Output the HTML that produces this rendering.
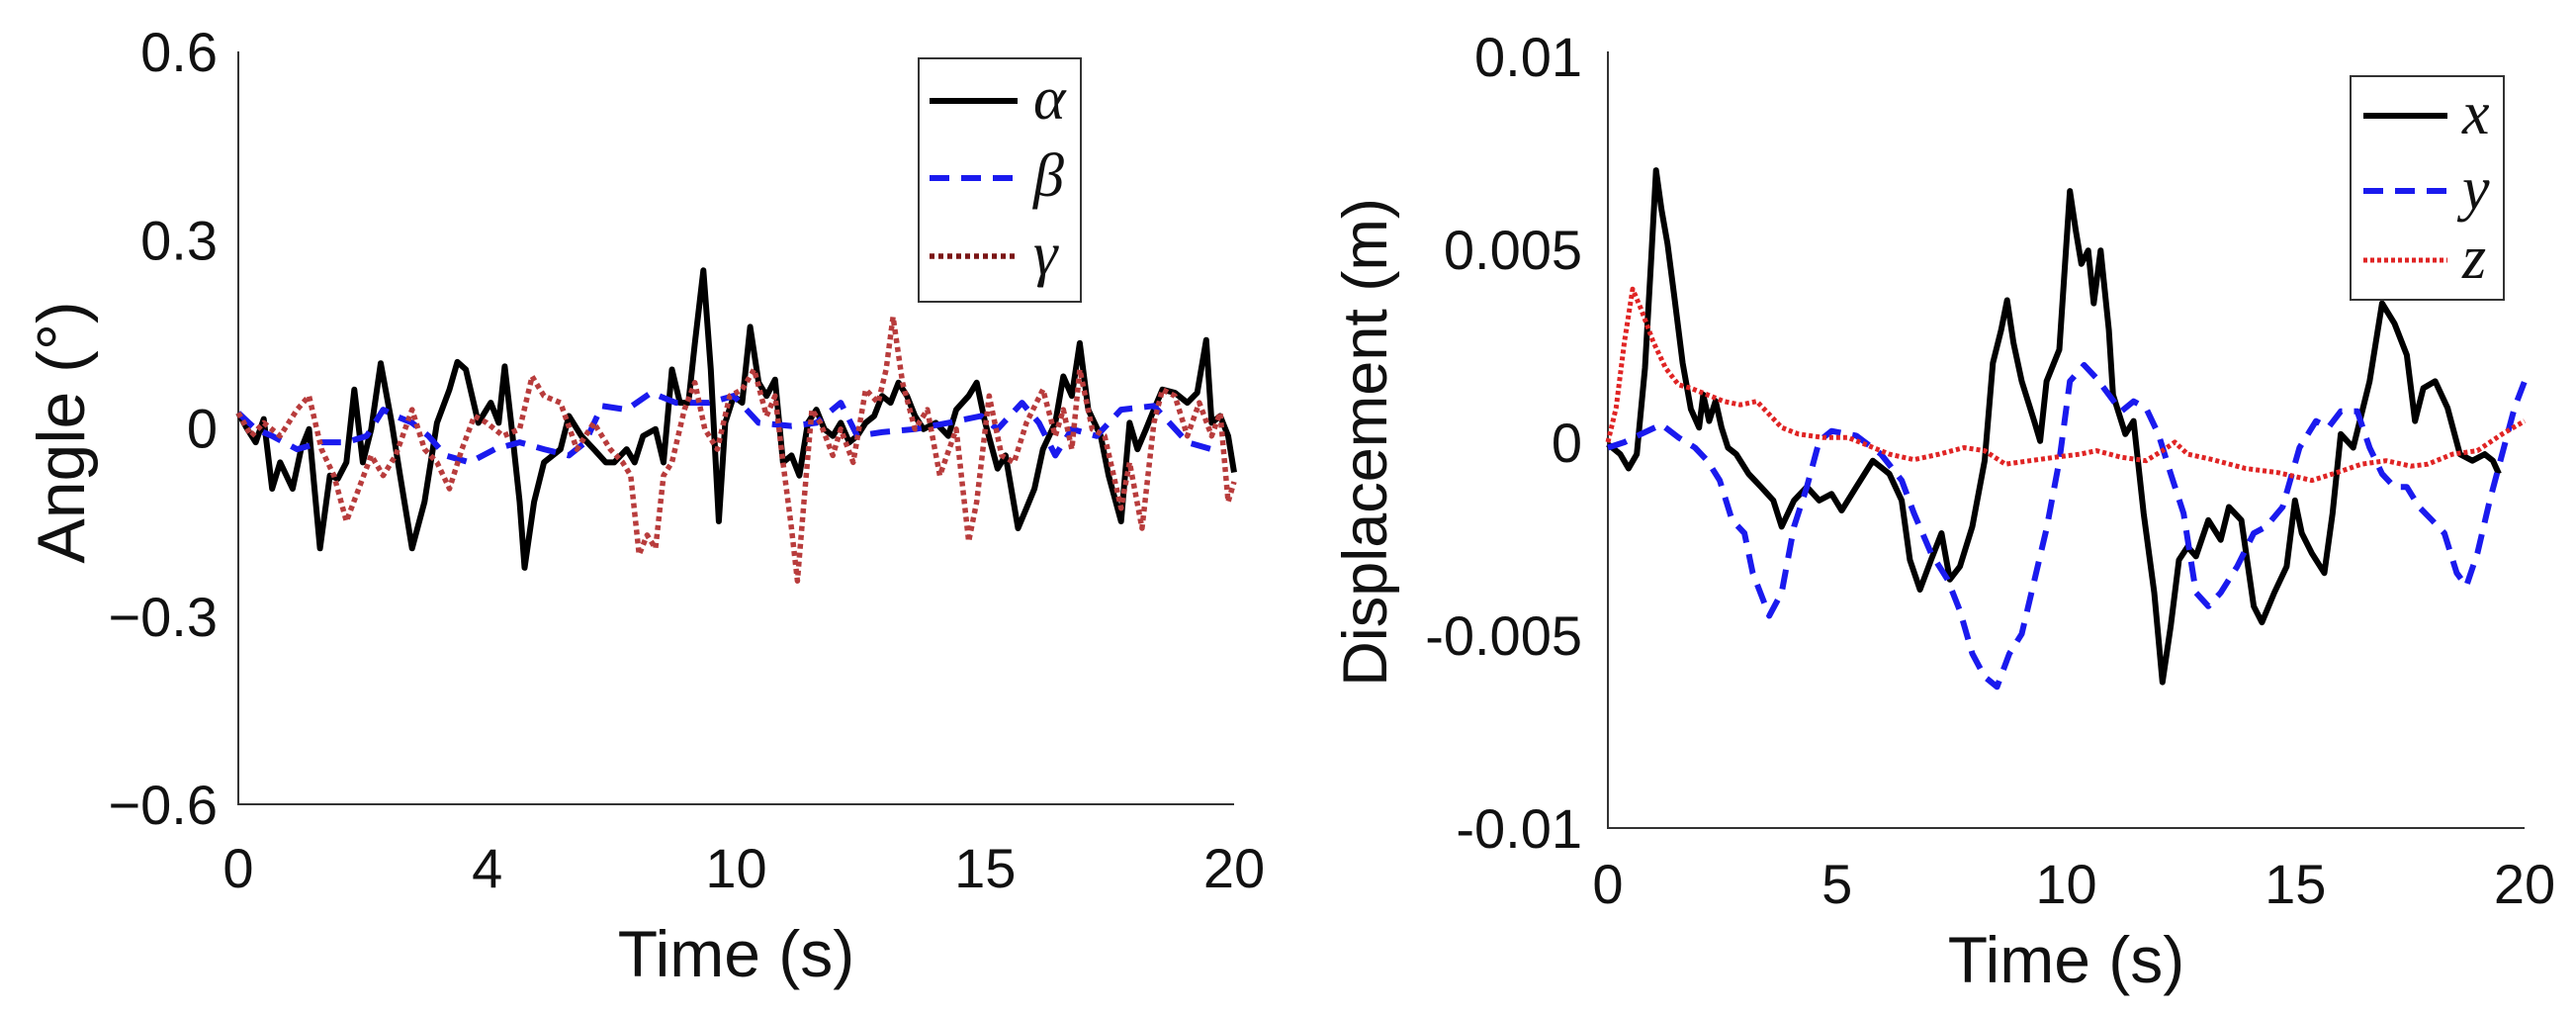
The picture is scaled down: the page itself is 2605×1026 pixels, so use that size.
<!DOCTYPE html>
<html><head><meta charset="utf-8">
<style>
html,body{margin:0;padding:0;background:#fff;}
svg{display:block;}
text{font-family:"Liberation Sans",sans-serif;fill:#111;}
.math{font-family:"Liberation Serif",serif;font-style:italic;}
</style></head>
<body>
<svg id="fig" width="2605" height="1026" viewBox="0 0 2605 1026" xmlns="http://www.w3.org/2000/svg">
<g id="left"></g>
<g id="right"></g>
</svg>
<script>
// ---------- Left chart data (angle, degrees) ----------
const alphaT=[0,.18,.35,.51,.68,.84,1.09,1.26,1.42,1.64,1.84,2.0,2.17,2.33,2.5,2.67,2.86,3.08,3.25,3.49,3.74,3.99,4.24,4.4,4.57,4.82,5.07,5.23,5.35,5.48,5.65,5.75,5.94,6.14,6.47,6.64,6.89,7.14,7.38,7.55,7.8,7.96,8.13,8.38,8.54,8.71,8.87,9.04,9.17,9.34,9.49,9.65,9.78,9.95,10.12,10.28,10.45,10.61,10.78,10.94,11.11,11.27,11.44,11.61,11.77,11.94,12.1,12.27,12.43,12.6,12.77,12.93,13.1,13.26,13.43,13.59,13.76,14.01,14.26,14.42,14.67,14.83,15.0,15.25,15.41,15.66,15.83,15.99,16.16,16.41,16.57,16.74,16.9,17.07,17.32,17.48,17.73,17.9,18.06,18.23,18.39,18.56,18.81,19.06,19.26,19.44,19.55,19.72,19.88,20.0];
const alphaV=[.024,-.002,-.023,.014,-.097,-.055,-.097,-.034,-.002,-.192,-.076,-.081,-.055,.061,-.055,-.002,.103,.008,-.076,-.192,-.118,.008,.061,.105,.093,.008,.04,.008,.098,.008,-.118,-.223,-.118,-.055,-.034,.019,-.013,-.034,-.055,-.055,-.034,-.055,-.013,-.002,-.055,.093,.04,.04,.135,.251,.093,-.149,.008,.051,.04,.161,.072,.051,.077,-.055,-.044,-.076,.008,.029,-.002,-.013,.008,-.023,-.013,.008,.019,.051,.04,.072,.051,.019,-.002,.008,-.013,.029,.051,.072,.008,-.065,-.044,-.16,-.128,-.097,-.034,.008,.082,.051,.135,.029,-.013,-.076,-.149,.008,-.034,-.002,.029,.061,.056,.04,.056,.14,.008,.019,-.013,-.071];
const betaT=[0,.35,.68,1.18,1.67,2.17,2.58,2.91,3.16,3.49,3.82,4.16,4.65,5.15,5.65,6.14,6.64,6.97,7.3,7.8,8.29,8.79,9.45,9.95,10.45,11.11,11.61,12.1,12.43,12.93,13.59,14.26,14.92,15.25,15.74,16.08,16.41,16.74,17.24,17.73,18.39,19.06,19.55];
const betaV=[.024,-.002,-.013,-.034,-.023,-.023,-.013,.029,.019,.008,-.013,-.044,-.055,-.034,-.023,-.034,-.044,-.023,.035,.029,.056,.04,.04,.051,.008,.003,.008,.04,-.013,-.007,-.002,.008,.019,-.002,.04,.008,-.044,-.002,-.013,.029,.035,-.023,-.034];
const gammaT=[0,.26,.51,.84,1.18,1.42,1.67,1.92,2.17,2.42,2.67,2.91,3.16,3.49,3.74,3.99,4.24,4.49,4.74,4.99,5.32,5.65,5.9,6.14,6.47,6.8,7.14,7.47,7.72,7.88,8.05,8.21,8.38,8.54,8.71,8.96,9.17,9.37,9.62,9.87,10.12,10.36,10.61,10.78,10.94,11.11,11.23,11.36,11.52,11.69,11.94,12.1,12.35,12.6,12.85,13.01,13.15,13.34,13.59,13.84,14.09,14.42,14.67,14.83,15.08,15.33,15.58,15.83,16.16,16.41,16.57,16.74,16.9,17.15,17.4,17.73,17.9,18.15,18.39,18.56,18.81,19.06,19.3,19.55,19.72,19.88,20.0];
const gammaV=[.024,-.013,.008,-.013,.029,.051,-.034,-.076,-.149,-.097,-.044,-.076,-.044,.029,-.034,-.055,-.097,-.034,.019,.008,-.013,-.002,.082,.051,.04,-.034,.008,-.034,-.055,-.076,-.202,-.171,-.192,-.076,-.055,.029,.072,-.002,-.034,.051,.061,.093,.019,.051,-.055,-.16,-.244,-.118,.029,.008,-.044,-.002,-.055,.061,.04,.093,.177,.072,-.002,.029,-.076,-.002,-.181,-.118,.051,-.044,-.055,.008,.061,-.013,.029,-.034,.093,-.002,-.013,-.128,-.055,-.16,.008,.061,.051,-.013,.04,-.013,.024,-.118,-.086];
const leftXTicks=[0,5,10,15,20];
const leftXTickLabels=["0","4","10","15","20"];
const leftYTicks=[0.6,0.3,0,-0.3,-0.6];
const leftYTickLabels=["0.6","0.3","0","\u22120.3","\u22120.6"];

// ---------- Right chart data (displacement, mm -> scaled by 0.001) ----------
const xT=[0,.27,.45,.63,.81,.94,1.05,1.17,1.3,1.45,1.63,1.81,1.99,2.08,2.21,2.35,2.48,2.62,2.8,3.07,3.34,3.61,3.79,4.06,4.34,4.61,4.88,5.1,5.42,5.78,6.14,6.41,6.59,6.81,7.05,7.28,7.46,7.68,7.95,8.22,8.4,8.58,8.71,8.85,9.03,9.3,9.43,9.57,9.85,10.08,10.21,10.33,10.48,10.6,10.75,10.93,11.02,11.29,11.47,11.69,11.92,12.1,12.28,12.46,12.65,12.83,13.1,13.37,13.55,13.82,14.09,14.27,14.54,14.81,14.99,15.14,15.36,15.63,15.81,15.99,16.26,16.62,16.89,17.16,17.43,17.61,17.79,18.05,18.32,18.59,18.86,19.13,19.31,19.44];
const xV=[-.05,-.31,-.68,-.31,1.92,4.66,7.05,6.03,5.14,3.77,2.05,.86,.38,1.23,.55,1.07,.38,-.14,-.31,-.82,-1.16,-1.51,-2.19,-1.51,-1.16,-1.51,-1.34,-1.77,-1.16,-.48,-.82,-1.51,-3.05,-3.82,-3.05,-2.36,-3.56,-3.22,-2.19,-.48,2.05,2.91,3.68,2.57,1.58,.55,.03,1.58,2.4,6.51,5.48,4.62,4.97,3.6,4.97,2.91,1.23,.21,.55,-1.85,-3.9,-6.22,-4.76,-3.05,-2.71,-2.96,-2.02,-2.53,-1.68,-2.02,-4.25,-4.67,-3.9,-3.22,-1.51,-2.36,-2.88,-3.39,-1.85,.21,-.14,1.58,3.6,3.08,2.26,.55,1.4,1.58,.89,-.31,-.48,-.31,-.48,-.82];
const yT=[0,.36,.72,1.17,1.54,1.9,2.17,2.44,2.71,2.98,3.16,3.52,3.79,4.06,4.34,4.61,4.88,5.42,5.96,6.41,6.68,7.05,7.41,7.68,7.95,8.22,8.49,8.76,9.03,9.3,9.57,9.85,10.08,10.39,10.66,10.93,11.2,11.47,11.74,12.01,12.28,12.56,12.83,13.1,13.37,13.73,14.09,14.36,14.72,15.09,15.45,15.72,15.99,16.35,16.62,16.89,17.16,17.43,17.7,17.98,18.25,18.52,18.73,18.97,19.24,19.51,19.78,20.0];
const yV=[-.14,0,.21,.46,.12,-.14,-.48,-.99,-2.02,-2.36,-3.39,-4.5,-3.9,-2.19,-1.16,.03,.29,.17,-.31,-.99,-1.85,-2.88,-3.56,-4.37,-5.48,-6.08,-6.34,-5.48,-4.97,-3.6,-2.24,-.48,1.58,2.0,1.66,1.23,.8,1.06,.89,.21,-.82,-1.85,-3.9,-4.25,-3.9,-3.22,-2.36,-2.19,-1.68,-.14,.55,.38,.8,.8,-.14,-.82,-1.16,-1.16,-1.68,-2.02,-2.36,-3.39,-3.73,-2.88,-1.51,-.31,.89,1.58];
const zT=[0,.18,.36,.54,.72,.99,1.26,1.54,1.81,2.17,2.53,2.89,3.25,3.52,3.79,4.16,4.7,5.24,5.6,6.14,6.68,7.23,7.77,8.22,8.67,9.21,9.76,10.3,10.66,11.2,11.74,12.1,12.37,12.65,13.19,13.91,14.63,15.36,15.9,16.44,16.98,17.52,17.89,18.43,18.97,19.51,20.0];
const zV=[0,.89,2.6,3.97,3.46,2.6,1.92,1.49,1.4,1.23,1.06,.97,1.06,.72,.38,.21,.12,.12,-.05,-.31,-.45,-.31,-.14,-.22,-.57,-.48,-.39,-.31,-.22,-.39,-.48,-.22,0,-.31,-.45,-.68,-.79,-.99,-.79,-.57,-.48,-.62,-.57,-.31,-.22,.21,.55];
const rightXTicks=[0,5,10,15,20];
const rightXTickLabels=["0","5","10","15","20"];
const rightYTicks=[0.01,0.005,0,-0.005,-0.01];
const rightYTickLabels=["0.01","0.005","0","-0.005","-0.01"];

const NS="http://www.w3.org/2000/svg";
function mk(parent,tag,attrs){const e=document.createElementNS(NS,tag);for(const k in attrs)e.setAttribute(k,attrs[k]);parent.appendChild(e);return e;}

function drawChart(g,cfg){
  const sx=t=>cfg.x0+(t-cfg.xmin)/(cfg.xmax-cfg.xmin)*(cfg.x1-cfg.x0);
  const sy=v=>cfg.yb+(v-cfg.ymin)/(cfg.ymax-cfg.ymin)*(cfg.yt-cfg.yb);
  const axes=mk(g,'path',{d:`M${cfg.x0},${cfg.axTop} L${cfg.x0},${cfg.yb} L${cfg.x1},${cfg.yb}`,fill:'none',stroke:'#333','stroke-width':2});
  
  
  cfg.xticks.forEach((t,i)=>{
    const tx=mk(g,'text',{x:sx(t),y:cfg.xLabY,'font-size':56,'text-anchor':'middle'});
    tx.textContent=cfg.xlabels[i];
    
    
  });
  cfg.yticks.forEach((v,i)=>{
    const tx=mk(g,'text',{x:cfg.yLabX,y:sy(v)+20,'font-size':56,'text-anchor':'end'});
    tx.textContent=cfg.ylabels[i];
    
    
  });
  const xt=mk(g,'text',{x:(cfg.x0+cfg.x1)/2,y:cfg.xTitleY,'font-size':66,'text-anchor':'middle'});
  xt.textContent=cfg.xtitle;
  
  
  const yt=mk(g,'text',{x:0,y:0,'font-size':cfg.ytitleSize,'text-anchor':'middle',transform:`translate(${cfg.yTitleX},${cfg.yTitleCY}) rotate(-90)`});
  yt.textContent=cfg.ytitle;
  
  
  cfg.series.forEach(s=>{
    const d=s.t.map((t,i)=>(i?'L':'M')+sx(t).toFixed(1)+','+sy(s.v[i]*s.k).toFixed(1)).join(' ');
    const p=mk(g,'path',{d:d,fill:'none',stroke:s.color,'stroke-width':s.w,'stroke-dasharray':s.dash||'none','stroke-linejoin':'round'});
    
    
  });
  const L=cfg.legend;
  const box=mk(g,'rect',{x:L.x,y:L.y,width:L.w,height:L.h,fill:'#fff',stroke:'#333','stroke-width':2});
  
  
  cfg.series.forEach((s,i)=>{
    const ey=L.rows[i];
    const ln=mk(g,'line',{x1:L.lx0,y1:ey,x2:L.lx1,y2:ey,stroke:s.legColor||s.color,'stroke-width':s.w,'stroke-dasharray':s.dash||'none'});
    
    
    const tx=mk(g,'text',{x:L.tx,y:ey+18,'font-size':62,'class':'math'});
    tx.textContent=s.sym;
    
    
  });
}

drawChart(document.getElementById('left'),{
  x0:241,x1:1248,xmin:0,xmax:20,yb:813,yt:52,ymin:-0.6,ymax:0.6,axTop:52,
  xticks:leftXTicks,xlabels:leftXTickLabels,yticks:leftYTicks,ylabels:leftYTickLabels,
  xLabY:897,yLabX:220,xTitleY:987,xtitle:'Time (s)',ytitle:'Angle (\u00B0)',ytitleSize:68,yTitleX:85,yTitleCY:437,
  series:[
    {name:'alpha',sym:'\u03B1',t:alphaT,v:alphaV,k:1,color:'#000',w:6},
    {name:'beta',sym:'\u03B2',t:betaT,v:betaV,k:1,color:'#1a1aee',w:6,dash:'20 12'},
    {name:'gamma',sym:'\u03B3',t:gammaT,v:gammaV,k:1,color:'#b83c3c',legColor:'#7a1414',w:5.5,dash:'5 4'}
  ],
  legend:{x:929,y:59,w:164,h:246,rows:[102,180,259],lx0:940,lx1:1029,tx:1045}
});
drawChart(document.getElementById('right'),{
  x0:1626,x1:2553,xmin:0,xmax:20,yb:837,yt:57,ymin:-0.01,ymax:0.01,axTop:52,
  xticks:rightXTicks,xlabels:rightXTickLabels,yticks:rightYTicks,ylabels:rightYTickLabels,
  xLabY:913,yLabX:1600,xTitleY:993,xtitle:'Time (s)',ytitle:'Displacement (m)',ytitleSize:63,yTitleX:1402,yTitleCY:447,
  series:[
    {name:'x',sym:'x',t:xT,v:xV,k:0.001,color:'#000',w:6},
    {name:'y',sym:'y',t:yT,v:yV,k:0.001,color:'#1a1aee',w:6,dash:'20 12'},
    {name:'z',sym:'z',t:zT,v:zV,k:0.001,color:'#e02424',w:5,dash:'4 3'}
  ],
  legend:{x:2377,y:77,w:155,h:226,rows:[117,193,263],lx0:2390,lx1:2475,tx:2490}
});
</script>
</body></html>
